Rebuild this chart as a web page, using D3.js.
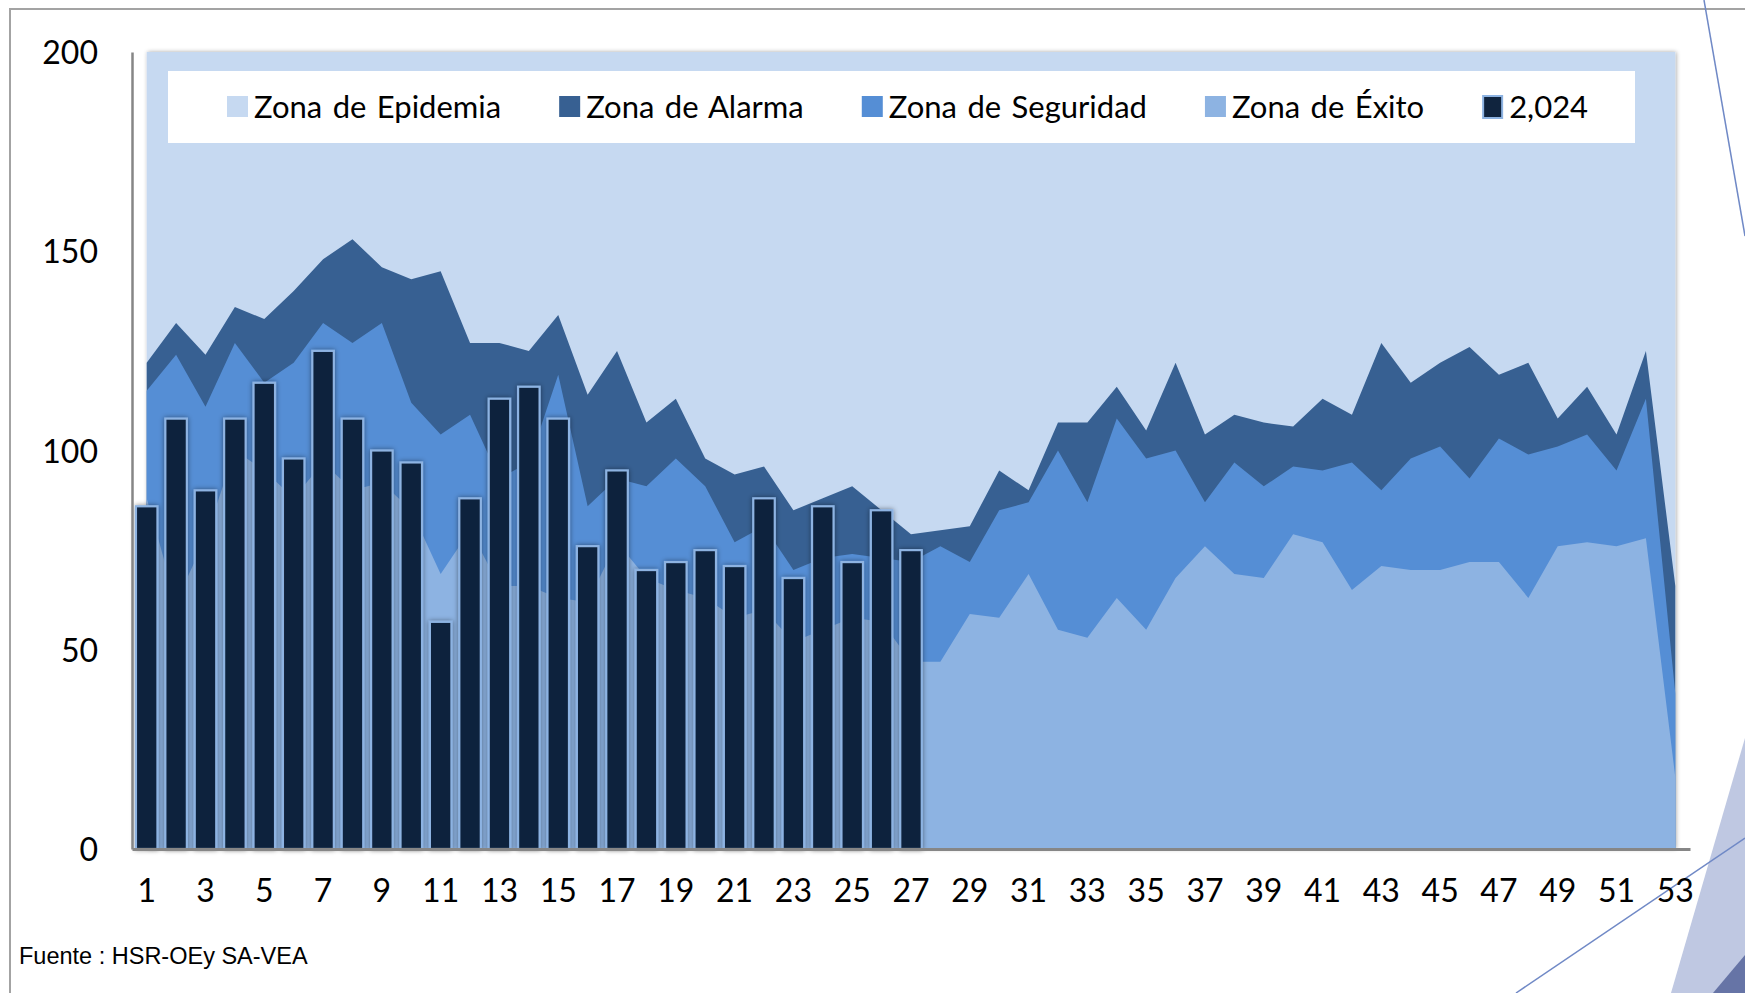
<!DOCTYPE html>
<html>
<head>
<meta charset="utf-8">
<script src="https://cdn.jsdelivr.net/npm/d3@7"></script>
<style>
  html, body { margin: 0; padding: 0; background: #fff; }
  svg { display: block; }
  text { font-family: Lato, "Noto Sans", sans-serif; fill: #000; }
</style>
</head>
<body>
<div id="chart"></div>
<script>
// categories (epidemiological weeks)
const weeks = [1,2,3,4,5,6,7,8,9,10,11,12,13,14,15,16,17,18,19,20,21,22,23,24,25,26,27,
    28,29,30,31,32,33,34,35,36,37,38,39,40,41,42,43,44,45,46,47,48,49,50,51,52,53]
const xTickLabels = [1,3,5,7,9,11,13,15,17,19,21,23,25,27,29,31,33,35,37,39,41,43,45,47,49,51,53]
const yTickLabels = [0, 50, 100, 150, 200]

// zone upper limits
const epidemia = [200,200,200,200,200,200,200,200,200,200,200,200,200,200,200,200,200,200,
    200,200,200,200,200,200,200,200,200,200,200,200,200,200,200,200,200,200,200,200,200,200,
    200,200,200,200,200,200,200,200,200,200,200,200,200]
const alarma = [122,132,124,136,133,140,148,153,146,143,145,127,127,125,134,114,125,107,113,98,
    94,96,85,88,91,85,79,80,81,95,90,107,107,116,105,122,104,109,107,106,113,109,127,117,122,
    126,119,122,108,116,104,125,66]
const seguridad = [115,124,111,127,117,122,132,127,132,112,104,109,93,97,119,86,93,91,98,91,
    77,81,70,73,74,73,72,76,72,85,87,100,87,108,98,100,87,97,91,96,95,97,90,98,101,93,103,99,
    101,104,95,113,39]
const exito = [88,62,78,100,95,88,97,90,92,85,69,80,66,66,63,62,77,68,65,63,58,60,52,55,58,57,
    47,47,59,58,69,55,53,63,55,68,76,69,68,79,77,65,71,70,70,72,72,63,76,77,76,78,18]

// 2024 cases, weeks 1-27
const casos2024 = [86,108,90,108,117,98,125,108,100,97,57,88,113,116,108,76,95,70,72,75,71,88,
    68,86,72,85,75]

const seriesNames = ['Zona de Epidemia', 'Zona de Alarma', 'Zona de Seguridad', 'Zona de Éxito', '2,024']

// dimensions
const dim = {
    width: 1745,
    height: 993,
    left: 132,
    right: 1690,
    top: 52,
    bottom: 849
}

const svg = d3.select('#chart')
    .append('svg')
        .attr('width', dim.width)
        .attr('height', dim.height)

const defs = svg.append('defs')
defs.append('filter')
        .attr('id', 'barShadow')
        .attr('x', '-30%').attr('y', '-10%').attr('width', '160%').attr('height', '120%')
    .append('feDropShadow')
        .attr('dx', 0).attr('dy', 0)
        .attr('stdDeviation', 2.5)
        .attr('flood-color', '#000')
        .attr('flood-opacity', 0.45)
defs.append('filter')
        .attr('id', 'plotShadow')
        .attr('x', '-2%').attr('y', '-2%').attr('width', '104%').attr('height', '104%')
    .append('feDropShadow')
        .attr('dx', 1).attr('dy', 0)
        .attr('stdDeviation', 2)
        .attr('flood-color', '#000')
        .attr('flood-opacity', 0.35)

// outer frame and slide decorations
svg.append('path')
    .attr('d', `M10,${dim.height} L10,9 L${dim.width},9`)
    .attr('fill', 'none')
    .attr('stroke', '#a3a3a3')
    .attr('stroke-width', 2)

svg.append('path')
    .attr('d', 'M1745,738 L1745,993 L1671,993 Z')
    .attr('fill', '#bfc8e2')
svg.append('path')
    .attr('d', 'M1745,955 L1745,993 L1713,993 Z')
    .attr('fill', '#6674a6')
svg.append('line')
    .attr('x1', 1704).attr('y1', 0).attr('x2', 1745).attr('y2', 236)
    .attr('stroke', '#7089c6').attr('stroke-width', 1.5)
svg.append('line')
    .attr('x1', 1516).attr('y1', 993).attr('x2', 1745).attr('y2', 838)
    .attr('stroke', '#7089c6').attr('stroke-width', 1.5)

// scales
const xScale = d3.scaleBand()
    .domain(weeks)
    .range([dim.left, dim.right])

const xBar = d3.scaleBand()
    .domain(weeks)
    .range([dim.left, dim.right])
    .paddingInner(0.2)
    .paddingOuter(0.1)

const yScale = d3.scaleLinear()
    .domain([0, 200])
    .range([dim.bottom, dim.top])

const fillScale = d3.scaleOrdinal()
    .domain(seriesNames)
    .range(['#c6d9f1', '#376092', '#558ed5', '#8db3e2', '#10243e'])

// zones (areas drawn back to front)
const area = d3.area()
    .x((d, i) => xScale(weeks[i]) + xScale.bandwidth() / 2)
    .y0(yScale(0))
    .y1(d => yScale(d))

const zones = [
    { name: 'Zona de Epidemia', values: epidemia },
    { name: 'Zona de Alarma', values: alarma },
    { name: 'Zona de Seguridad', values: seguridad },
    { name: 'Zona de Éxito', values: exito }
]

svg.append('g')
    .selectAll('path')
    .data(zones)
    .join('path')
        .attr('d', d => area(d.values))
        .attr('fill', d => fillScale(d.name))
        .attr('filter', (d, i) => i === 0 ? 'url(#plotShadow)' : null)

// bars 2024
svg.append('g')
    .attr('filter', 'url(#barShadow)')
    .selectAll('rect')
    .data(casos2024)
    .join('rect')
        .attr('x', (d, i) => xBar(weeks[i]) + 1)
        .attr('y', d => yScale(d))
        .attr('width', xBar.bandwidth() - 2)
        .attr('height', d => yScale(0) - yScale(d))
        .attr('fill', fillScale('2,024'))
        .attr('stroke', '#8db3e2')
        .attr('stroke-width', 2.2)

// axes
const yAxis = d3.axisLeft(yScale)
    .tickValues(yTickLabels)
    .tickSize(0)
    .tickPadding(34)

const yG = svg.append('g')
    .attr('transform', `translate(${dim.left}, 0)`)
    .call(yAxis)
yG.select('.domain').attr('stroke', '#868686').attr('stroke-width', 2.5)
yG.selectAll('text')
    .attr('font-size', 32)
    .attr('dy', '0.36em')
    .style('font-family', 'Lato, sans-serif')
    .attr('fill', '#000')

const xAxis = d3.axisBottom(xScale)
    .tickValues(xTickLabels)
    .tickSize(0)
    .tickPadding(30)

const xG = svg.append('g')
    .attr('transform', `translate(0, ${dim.bottom})`)
    .call(xAxis)
xG.select('.domain').attr('stroke', '#868686').attr('stroke-width', 3)
xG.selectAll('text')
    .attr('font-size', 32)
    .style('font-family', 'Lato, sans-serif')
    .attr('fill', '#000')

// legend
svg.append('rect')
    .attr('x', 168)
    .attr('y', 71)
    .attr('width', 1635 - 168)
    .attr('height', 143 - 71)
    .attr('fill', '#fff')

const legend = svg.append('g')
let lx = 227
seriesNames.forEach(name => {
    const item = legend.append('g')
    if (name === '2,024') {
        item.append('rect')
            .attr('x', lx + 1).attr('y', 96)
            .attr('width', 19).attr('height', 22)
            .attr('fill', fillScale(name))
            .attr('stroke', '#8db3e2')
            .attr('stroke-width', 2)
    } else {
        item.append('rect')
            .attr('x', lx).attr('y', 96)
            .attr('width', 21).attr('height', 21)
            .attr('fill', fillScale(name))
    }
    const t = item.append('text')
        .attr('x', lx + 27)
        .attr('y', 118)
        .attr('font-size', 31)
        .attr('word-spacing', 2.5)
        .text(name)
    lx += 27 + t.node().getComputedTextLength() + 58
})

// source note
svg.append('text')
    .attr('x', 19)
    .attr('y', 964)
    .attr('font-size', 23.5)
    .style('font-family', '"Liberation Sans", Arial, sans-serif')
    .text('Fuente : HSR-OEy SA-VEA')
</script>
</body>
</html>
